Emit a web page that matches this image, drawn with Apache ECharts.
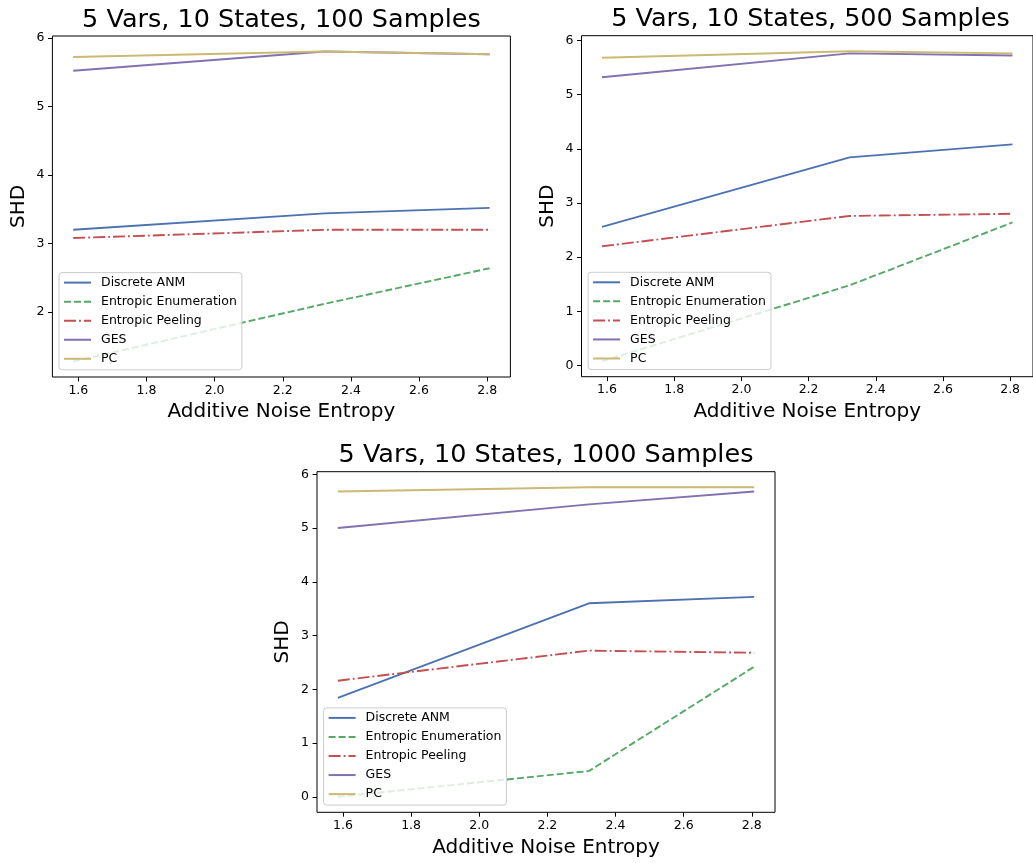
<!DOCTYPE html>
<html>
<head>
<meta charset="utf-8">
<script src="https://cdn.jsdelivr.net/npm/echarts@6/dist/echarts.min.js"></script>
<style>
html,body{margin:0;padding:0;background:#fff;}
#chart{width:1033px;height:863px;}
</style>
</head>
<body>
<div id="chart"></div>
<script>
// ---- data ----
const seriesNames = ['Discrete ANM', 'Entropic Enumeration', 'Entropic Peeling', 'GES', 'PC'];
const xValues = [1.585, 2.322, 2.807];
const xTicks = [1.6, 1.8, 2.0, 2.2, 2.4, 2.6, 2.8];
const titles = ['5 Vars, 10 States, 100 Samples', '5 Vars, 10 States, 500 Samples', '5 Vars, 10 States, 1000 Samples'];

const anm100 = [3.20, 3.44, 3.52];
const enum100 = [1.28, 2.12, 2.64];
const peel100 = [3.08, 3.20, 3.20];
const ges100 = [5.52, 5.80, 5.76];
const pc100 = [5.72, 5.80, 5.76];

const anm500 = [2.56, 3.84, 4.08];
const enum500 = [0.08, 1.48, 2.64];
const peel500 = [2.20, 2.76, 2.80];
const ges500 = [5.32, 5.76, 5.72];
const pc500 = [5.68, 5.80, 5.76];

const anm1000 = [1.84, 3.60, 3.72];
const enum1000 = [0.00, 0.48, 2.42];
const peel1000 = [2.16, 2.72, 2.68];
const ges1000 = [5.00, 5.44, 5.68];
const pc1000 = [5.68, 5.76, 5.76];

const yTicks100 = [2, 3, 4, 5, 6];
const yTicks500 = [0, 1, 2, 3, 4, 5, 6];
const yTicks1000 = [0, 1, 2, 3, 4, 5, 6];

// ---- styles / layout ----
const colors = ['#4C72B0', '#55A868', '#C44E52', '#8172B2', '#CCB974'];
const dashes = ['solid', [7, 3], [12, 3, 1.9, 3], 'solid', 'solid'];
const FONT = 'DejaVu Sans';
const LW = 1.9;

const panels = [
  { data: [anm100, enum100, peel100, ges100, pc100], yTicks: yTicks100, grid: { left: 52.4, top: 36, width: 458, height: 341 } },
  { data: [anm500, enum500, peel500, ges500, pc500], yTicks: yTicks500, grid: { left: 581.5, top: 35.7, width: 458, height: 341 } },
  { data: [anm1000, enum1000, peel1000, ges1000, pc1000], yTicks: yTicks1000, grid: { left: 317, top: 471.7, width: 458, height: 340.6 } }
];

function margins(lo, hi) { const m = (hi - lo) * 0.05; return [lo - m, hi + m]; }

const grids = [], xAxes = [], yAxes = [], series = [], legends = [], graphics = [];
const xr = margins(Math.min(...xValues), Math.max(...xValues));

panels.forEach((p, i) => {
  grids.push(Object.assign({ show: true, borderColor: '#000', borderWidth: 1, backgroundColor: 'transparent', containLabel: false }, p.grid));
  const all = [].concat(...p.data);
  const yr = margins(Math.min(...all), Math.max(...all));
  const axisTxt = { color: '#000', fontFamily: FONT, fontSize: 12.5 };
  xAxes.push({
    type: 'value', gridIndex: i, min: xr[0], max: xr[1],
    axisLine: { show: false, onZero: false },
    splitLine: { show: false },
    axisTick: { show: true, length: 4.4, lineStyle: { color: '#000', width: 1 }, customValues: xTicks },
    axisLabel: Object.assign({ margin: 7, customValues: xTicks, formatter: v => v.toFixed(1) }, axisTxt),
    name: 'Additive Noise Entropy', nameLocation: 'middle', nameGap: 25,
    nameTextStyle: { color: '#000', fontFamily: FONT, fontSize: 20 }
  });
  yAxes.push({
    type: 'value', gridIndex: i, min: yr[0], max: yr[1],
    axisLine: { show: false, onZero: false },
    splitLine: { show: false },
    axisTick: { show: true, length: 4.4, lineStyle: { color: '#000', width: 1 }, customValues: p.yTicks },
    axisLabel: Object.assign({ margin: 8, customValues: p.yTicks, formatter: v => String(Math.round(v)) }, axisTxt),
    name: 'SHD', nameLocation: 'middle', nameGap: 24, nameRotate: 90,
    nameTextStyle: { color: '#000', fontFamily: FONT, fontSize: 20 }
  });
  p.data.forEach((vals, k) => {
    series.push({
      type: 'line', name: seriesNames[k], xAxisIndex: i, yAxisIndex: i,
      data: xValues.map((x, j) => [x, vals[j]]),
      symbol: 'none', smooth: false, animation: false, silent: true,
      lineStyle: { color: colors[k], width: LW, type: dashes[k] },
      itemStyle: { color: colors[k] }
    });
  });
  legends.push({
    orient: 'vertical',
    left: p.grid.left + 6.6,
    top: p.grid.top + p.grid.height - 6.7 - 97.7,
    data: seriesNames,
    itemWidth: 27, itemHeight: 14, itemGap: 6.05,
    padding: [3.5, 5, 4.5, 4],
    backgroundColor: 'rgba(255,255,255,0.8)',
    borderColor: '#cccccc', borderWidth: 1, borderRadius: 3,
    itemStyle: { opacity: 0 },
    textStyle: { color: '#000', fontFamily: FONT, fontSize: 12.5, padding: [0, 0, 0, 5] },
    selectedMode: false, z: 10
  });
  graphics.push({
    type: 'text', x: p.grid.left + p.grid.width / 2, y: p.grid.top - 29,
    style: { text: titles[i], fill: '#000', font: '25.5px "DejaVu Sans"', textAlign: 'center', textVerticalAlign: 'top' }
  });
});

const chart = echarts.init(document.getElementById('chart'), null, { renderer: 'canvas' });
chart.setOption({
  animation: false,
  backgroundColor: '#fff',
  grid: grids, xAxis: xAxes, yAxis: yAxes, series: series, legend: legends, graphic: graphics
});
</script>
</body>
</html>
